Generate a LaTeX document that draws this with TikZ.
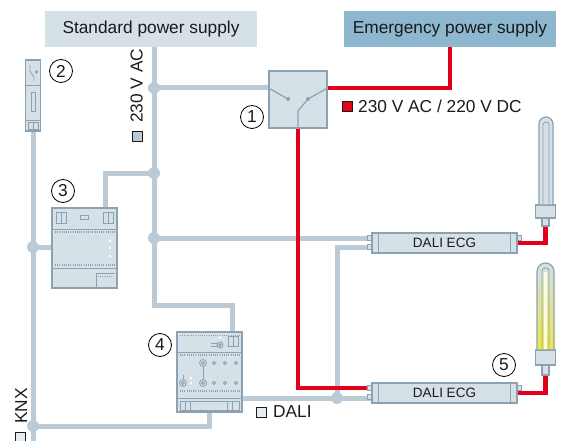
\documentclass[tikz,border=0pt]{standalone}
\usepackage{fontspec}
\setmainfont{Liberation Sans}
\usetikzlibrary{positioning, calc}

\definecolor{busgrey}{RGB}{187, 202, 213}
\definecolor{panelgrey}{RGB}{214, 224, 231}
\definecolor{edgegrey}{RGB}{140, 161, 178}
\definecolor{supplyblue}{RGB}{141, 183, 207}
\definecolor{mainsred}{RGB}{226, 0, 26}
\definecolor{inkgrey}{RGB}{26, 26, 26}
\definecolor{glowyellow}{RGB}{238, 230, 70}

\tikzset{
  supplybox/.style={minimum width=212pt, minimum height=36pt, inner sep=0pt},
  busline/.style={busgrey, line width=5pt},
  mainsline/.style={mainsred, line width=4.5pt},
  joint/.style={circle, fill=busgrey, minimum size=12pt, inner sep=0pt},
  tagcircle/.style={circle, draw=black, fill=white, line width=0.8pt, minimum size=23pt, inner sep=0pt},
  unitbox/.style={draw=edgegrey, fill=panelgrey, line width=1.2pt, inner sep=0pt},
  ecgbox/.style={unitbox, minimum width=145pt, minimum height=20pt, font=\fontsize{13.5}{15}\selectfont},
  legendsq/.style={draw=inkgrey, line width=0.8pt, minimum size=10pt, inner sep=0pt},
  detail/.style={edgegrey, line width=0.8pt},
  partbox/.style={draw=edgegrey, fill=panelgrey, line width=0.8pt},
  ticks/.style={edgegrey, line width=1.6pt, dash pattern=on 0.8pt off 1.4pt},
}

\begin{document}
\begin{tikzpicture}[x=1pt, y=-1pt, font=\fontsize{17.3}{20}\selectfont, text=inkgrey]
  \useasboundingbox (0,0) rectangle (564,441);

  % supplies, changeover switch, devices
  \node[supplybox, fill=panelgrey] (std) at (151,29) {Standard power supply};
  \node[supplybox, fill=supplyblue] (emg) at (450,29) {Emergency power supply};
  \node[unitbox, minimum width=58pt, minimum height=57pt] (sw) at (298,99.5) {};
  \node[unitbox, minimum width=15pt, minimum height=71pt] (mcb) at (33,95.5) {};
  \node[unitbox, minimum width=65pt, minimum height=80pt] (psu) at (84.5,248) {};
  \node[unitbox, minimum width=65pt, minimum height=80pt] (gw) at (209.5,372) {};
  \node[ecgbox] (ecg1) at (444.5,243) {DALI ECG};
  \node[ecgbox] (ecg2) at (444.5,393) {DALI ECG};
  \node[unitbox, minimum width=20pt, minimum height=13pt] (base1) at (545.5,211.5) {};
  \node[unitbox, minimum width=7pt, minimum height=8pt] (pin1) at (545.5,222) {};
  \node[unitbox, minimum width=20pt, minimum height=15pt] (base2) at (545.5,357.5) {};
  \node[unitbox, minimum width=7pt, minimum height=10pt] (pin2) at (545.5,370) {};

  % branch points
  \node[joint] (j1) at (154,88) {};
  \node[joint] (j2) at (154,173) {};
  \node[joint] (j3) at (154,238) {};
  \node[joint] (k1) at (33,247) {};
  \node[joint] (k2) at (33,426) {};
  \node[joint] (dj) at (337,398) {};
  \coordinate (trunkbend) at (232,305);
  \coordinate (knxend) at (33,441);

  % 230 V AC
  \draw[busline] (std.south -| j1) -- (j1.center) -- (j3.center) |- (trunkbend) -- (trunkbend |- gw.north);
  \draw[busline] (j1.center) -- (sw.west |- j1);
  \draw[busline] (j2.center) -| ($(psu.north)+(20.5,0)$);
  \draw[busline] (j3.center) -- (ecg1.west |- j3);
  % KNX
  \draw[busline] (mcb.south) -- (knxend);
  \draw[busline] (k1.center) -- (psu.west |- k1);
  \draw[busline] (k2.center) -| (gw.south);
  % DALI
  \draw[busline] (gw.east |- dj) -- (dj.center) -- (ecg2.west |- dj);
  \draw[busline] (dj.center) |- ($(ecg1.west)+(0,4)$);
  % emergency circuit
  \draw[mainsline] (sw.east |- j1) -| (emg.south);
  \draw[mainsline] (sw.south) |- ($(ecg2.west)+(0,-5)$);
  \draw[mainsline] (ecg1.east) -| (pin1.south);
  \draw[mainsline] (ecg2.east) -| (pin2.south);

  % switch contacts
  \draw[detail, line width=1.2pt] (sw.west |- j1) -- (288,99) (sw.east |- j1) -- (308,99)
    (sw.south) -- (298,111) -- (308,99);
  \fill[edgegrey] (288,99) circle[radius=2pt] (308,99) circle[radius=2pt];

  % circuit breaker
  \draw[detail] (25.5,85) -- (40.5,85) (25.5,120) -- (40.5,120);
  \draw[detail] (30,65) -- (30,71) -- (34,77) -- (34,81);
  \draw[detail] (36.5,72) circle[radius=1.2pt];
  \draw[partbox] (31.5,92) rectangle (35,111);
  \draw[partbox] (28,122.5) rectangle (38,129.5);
  \draw[detail] (33,122.5) -- (33,129.5);

  % power supply unit
  \draw[detail] (52,229) -- (117,229) (52,268) -- (117,268);
  \draw[ticks] (55,232) -- (115,232) (55,265) -- (115,265);
  \draw[partbox] (56,212) rectangle (66,223) (103,212) rectangle (113,223) (80,215) rectangle (88,219);
  \draw[detail] (61,212) -- (61,223) (108,212) -- (108,223);
  \fill[white] (110,241) circle[radius=1.4pt] (110,248) circle[radius=1.4pt] (110,256) circle[radius=1.4pt];
  \draw[detail] (96,288) -- (96,273) -- (115,273);
  \draw[ticks] (98,276.5) -- (113,276.5);

  % gateway
  \draw[ticks] (180,335.5) -- (240,335.5) (180,355) -- (240,355) (180,391) -- (240,391);
  \draw[detail] (177,352) -- (242,352) (177,398) -- (242,398);
  \draw[partbox] (228,336) rectangle (238,346);
  \draw[detail] (233,336) -- (233,346);
  \draw[detail] (220,345) circle[radius=3pt] (220,345) circle[radius=1.2pt]
    (211,343.5) -- (217,343.5) (211,346.5) -- (217,346.5);
  \fill[white] (220,337.5) circle[radius=1.5pt] (191,378) circle[radius=1.5pt] (191,383) circle[radius=1.5pt];
  \foreach \p in {(203,363), (183,383), (203,383)}
    \draw[detail] \p circle[radius=3.5pt] \p circle[radius=1.5pt];
  \foreach \x in {214, 225, 236}
    \draw[detail] (\x,363) circle[radius=1.5pt] (\x,383) circle[radius=1.5pt];
  \draw[detail] (203,366.5) -- (203,379.5) (183,375) -- (183,379.5);
  \draw[partbox] (180,401) rectangle (239,410);
  \draw[detail] (185,401) -- (185,410) (190,401) -- (190,410) (227,401) -- (227,410) (232,401) -- (232,410);

  % ballast end caps and terminals
  \foreach \e in {ecg1, ecg2} {
    \draw[detail] ($(\e.north west)+(7,0)$) -- ($(\e.south west)+(7,0)$)
      ($(\e.north east)+(-7,0)$) -- ($(\e.south east)+(-7,0)$);
    \draw[partbox] ($(\e.west)+(-4.5,-7.5)$) rectangle ++(4.5,5)
      ($(\e.west)+(-4.5,1.5)$) rectangle ++(4.5,5)
      ($(\e.east)+(0,-7.5)$) rectangle ++(4,5);
  }

  % lamps
  \draw[unitbox] (539,205) [rounded corners=7pt] -- (539,117) -- (553,117) [sharp corners] -- (553,205) -- cycle;
  \draw[detail] (543,205) [rounded corners=3pt] -- (543,122) -- (549,122) [sharp corners] -- (549,205);
  \draw[edgegrey, line width=1.2pt, top color=panelgrey, bottom color=glowyellow]
    (537,350) [rounded corners=8.5pt] -- (537,263) -- (554,263) [sharp corners] -- (554,350) -- cycle;
  \draw[white!85!glowyellow, line width=3pt] (545.5,349) -- (545.5,272);
  \draw[detail] (542,350) [rounded corners=3pt] -- (542,268) -- (549,268) [sharp corners] -- (549,350);

  % legends
  \node[legendsq, fill=busgrey] (acsq) at (137,136.5) {};
  \node[rotate=90, anchor=base west, inner sep=0pt] (aclabel) at (142.5,123) {230 V AC};
  \node[legendsq, fill=mainsred] (dcsq) at (347.5,106.5) {};
  \node[anchor=base west, inner sep=0pt] (dclabel) at (358,112) {230 V AC / 220 V DC};
  \node[legendsq, fill=panelgrey!60] (dalisq) at (261,412) {};
  \node[anchor=base west, inner sep=0pt] (dalilabel) at (273,417) {DALI};
  \node[legendsq, fill=panelgrey!60] (knxsq) at (20.5,437) {};
  \node[rotate=90, anchor=base west, inner sep=0pt] (knxlabel) at (27,424) {KNX};

  % item numbers
  \node[tagcircle] (t1) at (252,117) {1};
  \node[tagcircle] (t2) at (61,71) {2};
  \node[tagcircle] (t3) at (63,191) {3};
  \node[tagcircle] (t4) at (160,345) {4};
  \node[tagcircle] (t5) at (504,365) {5};
\end{tikzpicture}
\end{document}
